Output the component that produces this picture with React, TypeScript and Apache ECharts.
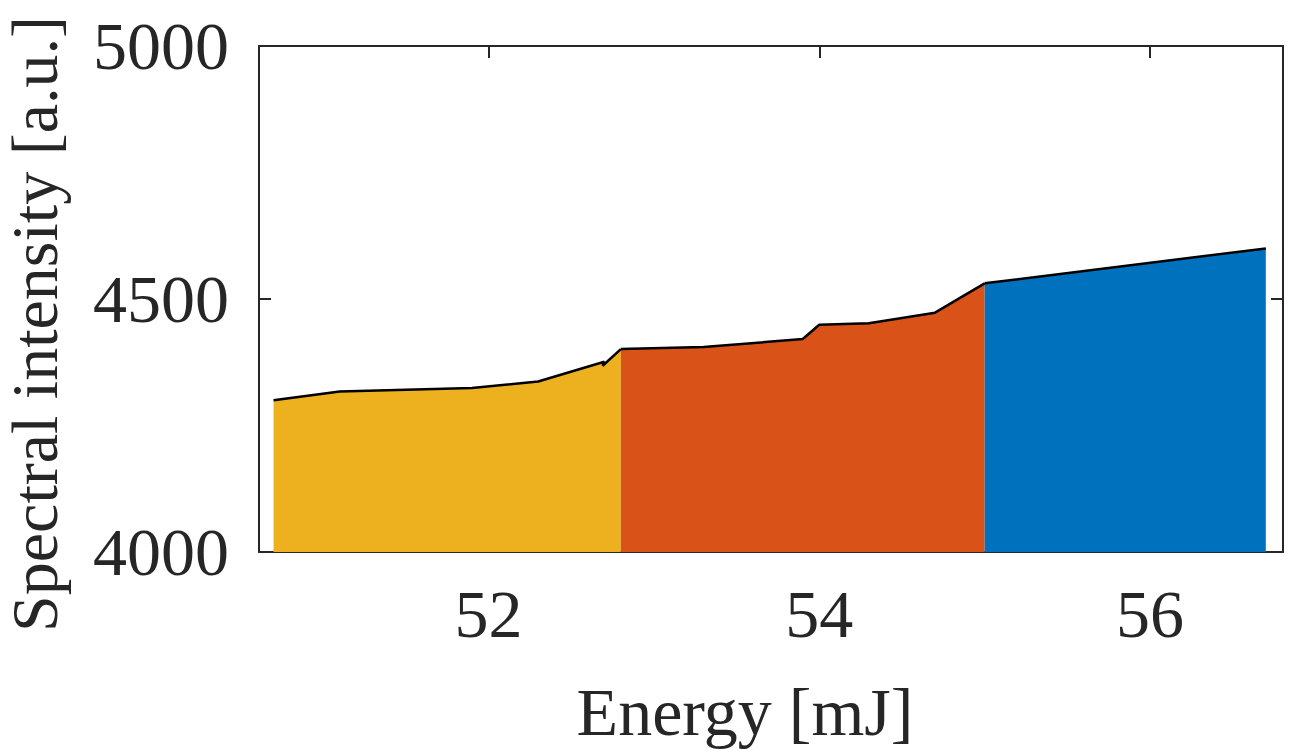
import React, { useEffect, useRef } from "react";
import * as echarts from "echarts";

const yellowX = [50.7, 51.1, 51.9, 52.3, 52.7, 52.69, 52.8];
const yellowY = [4300, 4317, 4324, 4337, 4376, 4368, 4401];
const orangeX = [52.8, 53.3, 53.9, 54.0, 54.3, 54.7, 55.0];
const orangeY = [4401, 4405, 4421, 4449, 4452, 4473, 4531];
const blueX = [55.0, 56.7];
const blueY = [4531, 4600];
const xTicks = [52, 54, 56];
const yName = "Spectral intensity [a.u.]";
const xName = "Energy [mJ]";

const FONT = "'Liberation Serif', 'Times New Roman', serif";
const AX = "#262626";
const FS = 68;

function pairs(xs: number[], ys: number[]) {
  return xs.map((x, i) => [x, ys[i]]);
}

export default function App() {
  const ref = useRef<HTMLDivElement>(null);
  useEffect(() => {
    document.body.style.margin = "0";
    const chart = echarts.init(ref.current!, null, { renderer: "svg" });
    const mkSeries = (xs: number[], ys: number[], color: string) => ({
      type: "line",
      data: pairs(xs, ys),
      symbol: "none",
      lineStyle: { color: "#000", width: 2.5 },
      areaStyle: { color, opacity: 1, origin: "start" },
      z: 2,
    });
    const xCommon = {
      type: "value",
      min: 50.612,
      max: 56.804,
      splitLine: { show: false },
      axisLine: { show: true, lineStyle: { color: AX, width: 2 } },
      axisTick: { show: true, inside: true, length: 12, customValues: xTicks, lineStyle: { color: AX, width: 2 } },
    };
    const yCommon = {
      type: "value",
      min: 4000,
      max: 5000,
      interval: 500,
      splitLine: { show: false },
      axisLine: { show: true, lineStyle: { color: AX, width: 2 } },
      axisTick: { show: true, inside: true, length: 12, lineStyle: { color: AX, width: 2 } },
    };
    chart.setOption({
      animation: false,
      grid: { left: 259, right: 11, top: 46, bottom: 198, containLabel: false, outerBoundsMode: "none" },
      xAxis: [
        {
          ...xCommon,
          position: "bottom",
          name: xName,
          nameLocation: "middle",
          nameGap: 126,
          nameTextStyle: { fontFamily: FONT, fontSize: FS, color: AX, padding: [0, 52, 0, 0] },
          axisLabel: {
            show: true,
            customValues: xTicks,
            margin: 28,
            fontFamily: FONT,
            fontSize: FS,
            color: AX,
            formatter: (v: number) => String(v),
          },
        },
        { ...xCommon, position: "top", axisLabel: { show: false } },
      ],
      yAxis: [
        {
          ...yCommon,
          position: "left",
          axisLabel: {
            show: true,
            margin: 30,
            fontFamily: FONT,
            fontSize: FS,
            color: AX,
            formatter: (v: number) => String(v),
          },
        },
        { ...yCommon, position: "right", axisLabel: { show: false } },
      ],
      graphic: [
        {
          type: "text",
          x: 34,
          y: 324,
          rotation: Math.PI / 2,
          style: {
            text: yName,
            fontFamily: FONT,
            fontSize: 66,
            fill: AX,
            align: "center",
            verticalAlign: "middle",
          },
        },
      ],
      series: [
        mkSeries(yellowX, yellowY, "#EDB120"),
        mkSeries(orangeX, orangeY, "#D95319"),
        mkSeries(blueX, blueY, "#0072BD"),
      ],
    });
    return () => chart.dispose();
  }, []);
  return <div ref={ref} style={{ width: 1294, height: 750 }} />;
}
